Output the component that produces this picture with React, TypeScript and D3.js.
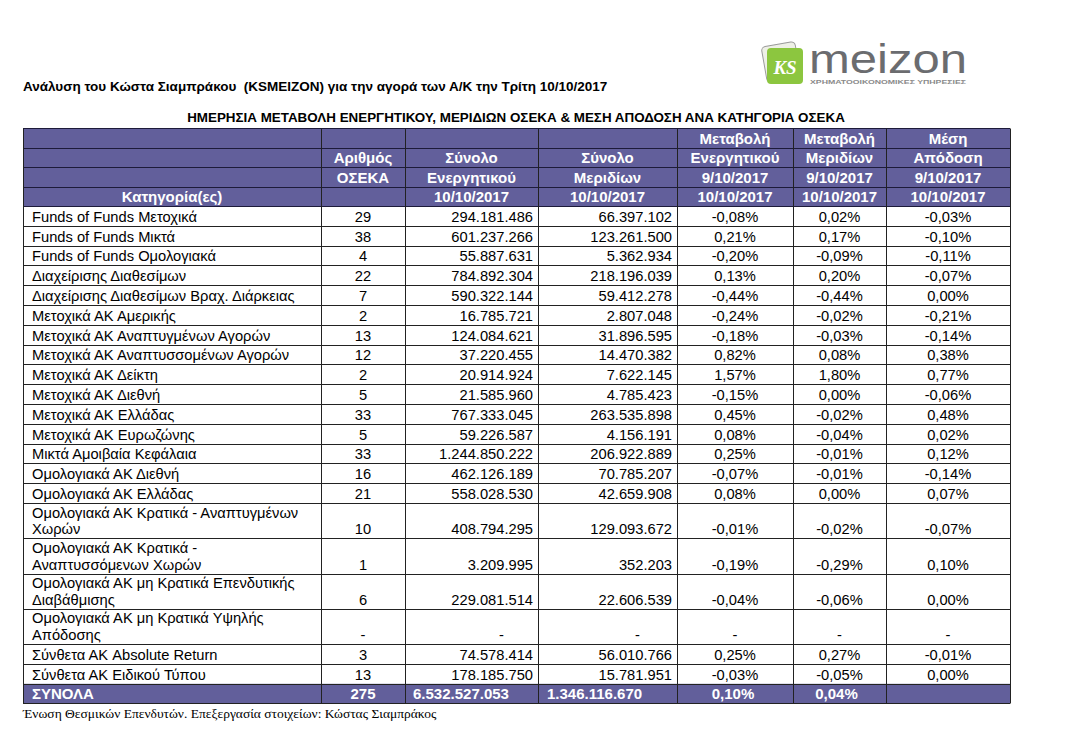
import React, { useEffect, useRef } from 'react';
import * as d3 from 'd3';

// table data
const categories: string[][] = [
  ['Funds of Funds Μετοχικά'],
  ['Funds of Funds Μικτά'],
  ['Funds of Funds Ομολογιακά'],
  ['Διαχείρισης Διαθεσίμων'],
  ['Διαχείρισης Διαθεσίμων Βραχ. Διάρκειας'],
  ['Μετοχικά ΑΚ Αμερικής'],
  ['Μετοχικά ΑΚ Αναπτυγμένων Αγορών'],
  ['Μετοχικά ΑΚ Αναπτυσσομένων Αγορών'],
  ['Μετοχικά ΑΚ Δείκτη'],
  ['Μετοχικά ΑΚ Διεθνή'],
  ['Μετοχικά ΑΚ Ελλάδας'],
  ['Μετοχικά ΑΚ Ευρωζώνης'],
  ['Μικτά Αμοιβαία Κεφάλαια'],
  ['Ομολογιακά ΑΚ Διεθνή'],
  ['Ομολογιακά ΑΚ Ελλάδας'],
  ['Ομολογιακά ΑΚ Κρατικά - Αναπτυγμένων', 'Χωρών'],
  ['Ομολογιακά ΑΚ Κρατικά -', 'Αναπτυσσόμενων Χωρών'],
  ['Ομολογιακά ΑΚ μη Κρατικά Επενδυτικής', 'Διαβάθμισης'],
  ['Ομολογιακά ΑΚ μη Κρατικά Υψηλής', 'Απόδοσης'],
  ['Σύνθετα ΑΚ Absolute Return'],
  ['Σύνθετα ΑΚ Ειδικού Τύπου'],
];
const fundCounts = [29, 38, 4, 22, 7, 2, 13, 12, 2, 5, 33, 5, 33, 16, 21, 10, 1, 6, null, 3, 13];
const totalAssets = [294181486, 601237266, 55887631, 784892304, 590322144, 16785721, 124084621, 37220455, 20914924, 21585960, 767333045, 59226587, 1244850222, 462126189, 558028530, 408794295, 3209995, 229081514, null, 74578414, 178185750];
const totalUnits = [66397102, 123261500, 5362934, 218196039, 59412278, 2807048, 31896595, 14470382, 7622145, 4785423, 263535898, 4156191, 206922889, 70785207, 42659908, 129093672, 352203, 22606539, null, 56010766, 15781951];
const assetChange = [-0.08, 0.21, -0.2, 0.13, -0.44, -0.24, -0.18, 0.82, 1.57, -0.15, 0.45, 0.08, 0.25, -0.07, 0.08, -0.01, -0.19, -0.04, null, 0.25, -0.03];
const unitChange = [0.02, 0.17, -0.09, 0.2, -0.44, -0.02, -0.03, 0.08, 1.8, 0.0, -0.02, -0.04, -0.01, -0.01, 0.0, -0.02, -0.29, -0.06, null, 0.27, -0.05];
const avgReturn = [-0.03, -0.1, -0.11, -0.07, 0.0, -0.21, -0.14, 0.38, 0.77, -0.06, 0.48, 0.02, 0.12, -0.14, 0.07, -0.07, 0.1, 0.0, null, -0.01, 0.0];

const totalLabel = 'ΣΥΝΟΛΑ';
const totalCount = 275;
const totalAssetsSum = 6532527053;
const totalUnitsSum = 1346116670;
const totalAssetChange = 0.1;
const totalUnitChange = 0.04;

const headerRows = [
  ['', '', '', '', 'Μεταβολή', 'Μεταβολή', 'Μέση'],
  ['', 'Αριθμός', 'Σύνολο', 'Σύνολο', 'Ενεργητικού', 'Μεριδίων', 'Απόδοση'],
  ['', 'ΟΣΕΚΑ', 'Ενεργητικού', 'Μεριδίων', '9/10/2017', '9/10/2017', '9/10/2017'],
  ['Κατηγορία(ες)', '', '10/10/2017', '10/10/2017', '10/10/2017', '10/10/2017', '10/10/2017'],
];

const title = 'Ανάλυση του Κώστα Σιαμπράκου  (KSMEIZON) για την αγορά των Α/Κ την Τρίτη 10/10/2017';
const subtitle = 'ΗΜΕΡΗΣΙΑ ΜΕΤΑΒΟΛΗ ΕΝΕΡΓΗΤΙΚΟΥ, ΜΕΡΙΔΙΩΝ ΟΣΕΚΑ & ΜΕΣΗ ΑΠΟΔΟΣΗ ΑΝΑ ΚΑΤΗΓΟΡΙΑ ΟΣΕΚΑ';
const footer = 'Ένωση Θεσμικών Επενδυτών. Επεξεργασία στοιχείων: Κώστας Σιαμπράκος';

const FONT = "'Liberation Sans', Arial, Helvetica, sans-serif";
const PURPLE = '#625f9b';
const BODY_SIZE = 14.7;
const HEAD_SIZE = 15;

const App = () => {
  const svgRef = useRef<SVGSVGElement>(null);

  useEffect(() => {
    const W = 1077, H = 733;
    const svg = d3.select(svgRef.current).attr('width', W).attr('height', H);
    svg.selectAll('*').remove();

    // greek number formatting (dot thousands, comma decimals, plain hyphen)
    const gr = d3.formatLocale({ decimal: ',', thousands: '.', grouping: [3], currency: ['€', ''], minus: '-' });
    const fmtInt = gr.format(',d');
    const fmtPct = gr.format('.2f');
    const num = (v: number | null) => (v == null ? '-' : fmtInt(v));
    const pct = (v: number | null) => (v == null ? '-' : fmtPct(v) + '%');

    // column layout
    const colEdges = [23, 321, 405, 538, 677, 793, 886, 1010];
    const align = ['start', 'middle', 'end', 'end', 'middle', 'middle', 'middle'];
    const colX = (c: number) => {
      if (align[c] === 'start') return colEdges[c] + 9;
      if (align[c] === 'end') return colEdges[c + 1] - 5;
      return (colEdges[c] + colEdges[c + 1]) / 2;
    };

    // row layout
    const headerTop = 128;
    const headerRowH = 19.5;
    const bodyTop = headerTop + headerRowH * headerRows.length;
    const rowH = (lines: number) => (lines === 1 ? 19.8 : 35.3);
    const heights = categories.map(c => rowH(c.length));
    const rowTops = heights.map((_, i) => bodyTop + d3.sum(heights.slice(0, i)));
    const totalTop = bodyTop + d3.sum(heights);
    const totalBottom = totalTop + 19.5;
    const px = (v: number) => Math.round(v) + 0.5;

    // title lines
    svg.append('text')
      .attr('x', 23).attr('y', 91)
      .attr('font-family', FONT).attr('font-weight', 'bold').attr('font-size', 13.5)
      .attr('fill', '#000')
      .style('white-space', 'pre')
      .text(title);

    svg.append('text')
      .attr('x', 516).attr('y', 122)
      .attr('text-anchor', 'middle')
      .attr('font-family', FONT).attr('font-weight', 'bold').attr('font-size', 13.4)
      .attr('fill', '#000')
      .text(subtitle);

    // logo
    const logo = svg.append('g');
    logo.append('rect')
      .attr('x', 764).attr('y', 44).attr('width', 34).attr('height', 36).attr('rx', 4)
      .attr('transform', 'rotate(-10 781 62)')
      .attr('fill', '#eef0e6').attr('stroke', '#9a9a9a').attr('stroke-width', 1);
    logo.append('rect')
      .attr('x', 767).attr('y', 48).attr('width', 36).attr('height', 36).attr('rx', 4)
      .attr('fill', '#8cc63f');
    logo.append('text')
      .attr('x', 785).attr('y', 74).attr('text-anchor', 'middle')
      .attr('font-family', "'Liberation Serif', serif").attr('font-style', 'italic').attr('font-weight', 'bold')
      .attr('font-size', 19).attr('fill', '#fff')
      .text('KS');
    logo.append('text')
      .attr('x', 809).attr('y', 73)
      .attr('font-family', FONT).attr('font-size', 40).attr('fill', '#6b6c6f')
      .attr('textLength', 158).attr('lengthAdjust', 'spacingAndGlyphs')
      .text('meizon');
    logo.append('text')
      .attr('x', 810).attr('y', 84)
      .attr('font-family', FONT).attr('font-weight', 'bold').attr('font-size', 6).attr('fill', '#8a8a8a')
      .attr('textLength', 156).attr('lengthAdjust', 'spacingAndGlyphs')
      .text('ΧΡΗΜΑΤΟΟΙΚΟΝΟΜΙΚΕΣ ΥΠΗΡΕΣΙΕΣ');

    // header background
    svg.append('rect')
      .attr('x', colEdges[0]).attr('y', headerTop)
      .attr('width', colEdges[7] - colEdges[0]).attr('height', bodyTop - headerTop)
      .attr('fill', PURPLE);

    // totals background
    svg.append('rect')
      .attr('x', colEdges[0]).attr('y', totalTop)
      .attr('width', colEdges[7] - colEdges[0]).attr('height', totalBottom - totalTop)
      .attr('fill', PURPLE);

    // header texts
    headerRows.forEach((row, r) => {
      const yb = headerTop + headerRowH * (r + 1) - 4;
      row.forEach((txt, c) => {
        if (!txt) return;
        svg.append('text')
          .attr('x', (colEdges[c] + colEdges[c + 1]) / 2)
          .attr('y', yb)
          .attr('text-anchor', 'middle')
          .attr('font-family', FONT).attr('font-weight', 'bold').attr('font-size', HEAD_SIZE)
          .attr('fill', '#fff')
          .text(txt);
      });
    });

    // body rows
    const body = svg.append('g').attr('font-family', FONT).attr('font-size', BODY_SIZE).attr('fill', '#000');
    categories.forEach((lines, i) => {
      const yb = rowTops[i] + heights[i] - 4;
      lines.forEach((ln, k) => {
        body.append('text')
          .attr('x', colX(0))
          .attr('y', yb - (lines.length - 1 - k) * 16.8)
          .text(ln);
      });
      const cells = [
        fundCounts[i] == null ? '-' : String(fundCounts[i]),
        num(totalAssets[i]),
        num(totalUnits[i]),
        pct(assetChange[i]),
        pct(unitChange[i]),
        pct(avgReturn[i]),
      ];
      cells.forEach((txt, j) => {
        const c = j + 1;
        const missing = txt === '-';
        body.append('text')
          .attr('x', missing ? (colEdges[c] + colEdges[c + 1]) / 2 + (align[c] === 'end' ? 30 : 0) : colX(c))
          .attr('y', yb)
          .attr('text-anchor', missing ? 'middle' : align[c])
          .text(txt);
      });
    });

    // totals row
    const tyb = totalBottom - 4;
    const totalCells = [
      { t: totalLabel, x: colEdges[0] + 9, a: 'start' },
      { t: String(totalCount), x: (colEdges[1] + colEdges[2]) / 2, a: 'middle' },
      { t: fmtInt(totalAssetsSum), x: colEdges[2] + 8, a: 'start' },
      { t: fmtInt(totalUnitsSum), x: colEdges[3] + 9, a: 'start' },
      { t: pct(totalAssetChange), x: (colEdges[4] + colEdges[5]) / 2 - 2, a: 'middle' },
      { t: pct(totalUnitChange), x: (colEdges[5] + colEdges[6]) / 2 - 3, a: 'middle' },
    ];
    totalCells.forEach(d => {
      svg.append('text')
        .attr('x', d.x).attr('y', tyb)
        .attr('text-anchor', d.a)
        .attr('font-family', FONT).attr('font-weight', 'bold').attr('font-size', HEAD_SIZE)
        .attr('fill', '#fff')
        .text(d.t);
    });

    // grid lines
    const hLines = [
      ...d3.range(headerRows.length + 1).map(r => headerTop + r * headerRowH),
      ...rowTops.slice(1),
      totalTop,
      totalBottom,
    ];
    svg.append('g').selectAll('line.h')
      .data(hLines)
      .enter().append('line')
      .attr('x1', colEdges[0]).attr('x2', colEdges[7])
      .attr('y1', d => px(d)).attr('y2', d => px(d))
      .attr('stroke', (d, i) => (i <= headerRows.length ? '#1d1b3a' : '#222'))
      .attr('stroke-width', 1);

    svg.append('g').selectAll('line.v')
      .data(colEdges)
      .enter().append('line')
      .attr('x1', d => px(d)).attr('x2', d => px(d))
      .attr('y1', px(headerTop)).attr('y2', px(totalBottom))
      .attr('stroke', '#222')
      .attr('stroke-width', 1);

    // source note
    svg.append('text')
      .attr('x', 23).attr('y', 718)
      .attr('font-family', "'Liberation Serif', 'Times New Roman', serif").attr('font-size', 13.5)
      .attr('fill', '#000')
      .text(footer);
  }, []);

  return (
    <div style={{ position: 'absolute', left: 0, top: 0, background: '#fff' }}>
      <svg ref={svgRef}></svg>
    </div>
  );
};

export default App;
